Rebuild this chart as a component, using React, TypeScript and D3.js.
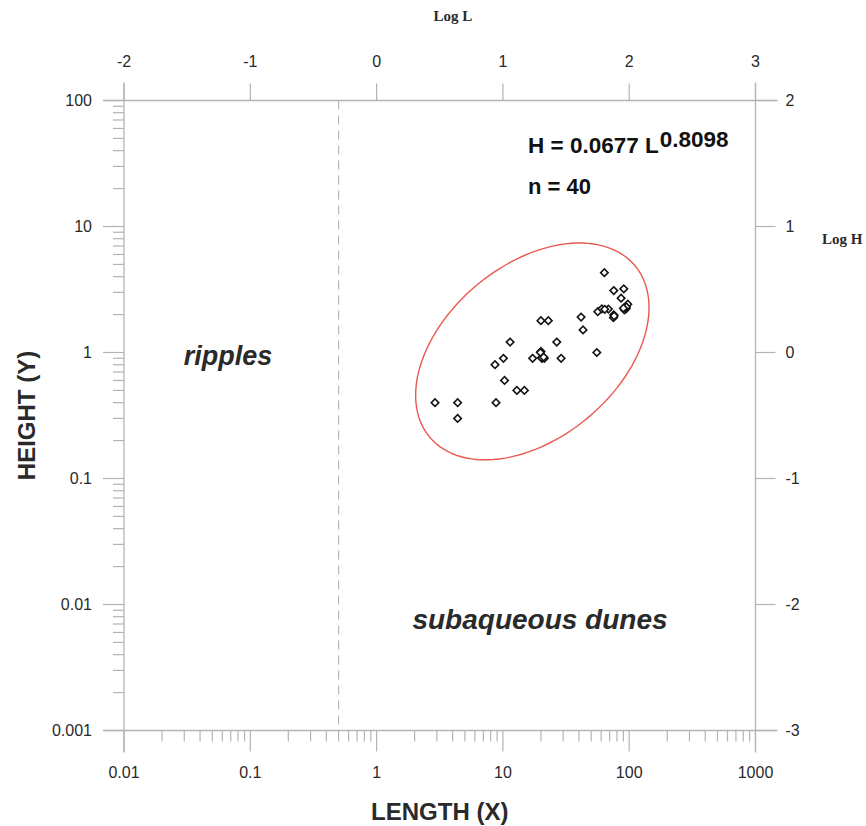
import React from "react";
import * as d3 from "d3";

// bedform length (m) and height (m)
const lengths = [63.6, 75.5, 90.6, 86.3, 97.5, 91.6, 94.5, 56.4, 60.7, 68.4, 75.5, 75, 41.6, 43.1, 20, 22.9, 11.4, 26.7, 55.4, 20, 17.2, 20.4, 21.3, 28.9, 10.1, 8.66, 10.3, 12.9, 14.8, 2.9, 4.38, 8.82, 4.38, 20.2, 76, 95, 21, 64, 90, 19.8];
const heights = [4.3, 3.1, 3.2, 2.7, 2.42, 2.18, 2.22, 2.11, 2.22, 2.21, 1.99, 1.89, 1.91, 1.51, 1.79, 1.79, 1.21, 1.21, 1.0, 1.02, 0.9, 0.9, 0.9, 0.9, 0.9, 0.8, 0.6, 0.5, 0.5, 0.4, 0.4, 0.4, 0.3, 0.91, 1.95, 2.3, 0.92, 2.2, 2.25, 1.0];

const xTicks = [0.01, 0.1, 1, 10, 100, 1000];
const xTickLabels = ["0.01", "0.1", "1", "10", "100", "1000"];
const yTicks = [0.001, 0.01, 0.1, 1, 10, 100];
const yTickLabels = ["0.001", "0.01", "0.1", "1", "10", "100"];
const logLTicks = [-2, -1, 0, 1, 2, 3];
const logHTicks = [-3, -2, -1, 0, 1, 2];

const rippleLimit = 0.5; // dashed boundary, length
const fitCoef = "0.0677";
const fitExp = "0.8098";
const nPoints = 40;

// confidence ellipse (centre in data units, semi-axes in decades, tilt in degrees)
const ellCenterL = 17.1;
const ellCenterH = 1.02;
const ellMajor = 1.06;
const ellMinor = 0.686;
const ellTilt = 40;

const W = 866;
const H = 826;
const left = 124, right = 755.5, top = 100.5, bottom = 730.5;

const App = () => {
  const x = d3.scaleLog().domain([0.01, 1000]).range([left, right]);
  const y = d3.scaleLog().domain([0.001, 100]).range([bottom, top]);
  const xl = d3.scaleLinear().domain([-2, 3]).range([left, right]);
  const yl = d3.scaleLinear().domain([-3, 2]).range([bottom, top]);

  const minors = (lo: number, hi: number) => {
    const out: number[] = [];
    for (let d = lo; d < hi; d *= 10) for (let m = 2; m <= 9; m++) out.push(d * m);
    return out;
  };
  const xMinor = minors(0.01, 1000);
  const yMinor = minors(0.001, 100);

  // ellipse outline in log space
  const t = (ellTilt * Math.PI) / 180;
  const c0 = Math.log10(ellCenterL), c1 = Math.log10(ellCenterH);
  const ellPts = d3.range(0, 361, 3).map((deg) => {
    const a = (deg * Math.PI) / 180;
    const u = ellMajor * Math.cos(a), v = ellMinor * Math.sin(a);
    return [c0 + u * Math.cos(t) - v * Math.sin(t), c1 + u * Math.sin(t) + v * Math.cos(t)];
  });
  const ellPath = d3.line<number[]>().x((d) => xl(d[0])).y((d) => yl(d[1])).curve(d3.curveLinearClosed)(ellPts);

  const diamond = d3.symbol(d3.symbolSquare, 28)();
  const axisCol = "#b4b4b4";
  const txt = "#2a2a2a";
  const sans = "'Liberation Sans', Arial, sans-serif";
  const serif = "'Liberation Serif', 'Times New Roman', serif";

  return (
    <svg width={W} height={H} style={{ position: "absolute", left: 0, top: 0, background: "#fff" }}>
      {/* frame lines, extended past the corners */}
      <g stroke={axisCol} strokeWidth={1.3}>
        <line x1={left - 21} x2={right + 22} y1={top} y2={top} />
        <line x1={left - 21} x2={right + 22} y1={bottom} y2={bottom} />
        <line x1={left} x2={left} y1={top - 18} y2={bottom + 22} />
        <line x1={right} x2={right} y1={top - 18} y2={bottom + 22} />
      </g>

      {/* ticks */}
      <g stroke={axisCol} strokeWidth={1.2}>
        {xTicks.map((v) => <line key={"xM" + v} x1={x(v)} x2={x(v)} y1={bottom} y2={bottom + 21} />)}
        {xMinor.map((v) => <line key={"xm" + v} x1={x(v)} x2={x(v)} y1={bottom} y2={bottom + 11} />)}
        {yTicks.map((v) => <line key={"yM" + v} x1={left - 21} x2={left} y1={y(v)} y2={y(v)} />)}
        {yMinor.map((v) => <line key={"ym" + v} x1={left - 11} x2={left} y1={y(v)} y2={y(v)} />)}
        {logLTicks.map((v) => <line key={"lL" + v} x1={xl(v)} x2={xl(v)} y1={top - 17} y2={top} />)}
        {logHTicks.map((v) => <line key={"lH" + v} x1={right} x2={right + 20} y1={yl(v)} y2={yl(v)} />)}
      </g>

      <g fontFamily={sans} fontSize={16} fill={txt}>
        {xTicks.map((v, i) => (
          <text key={"xt" + v} x={x(v)} y={bottom + 47} textAnchor="middle">{xTickLabels[i]}</text>
        ))}
        {yTicks.map((v, i) => (
          <text key={"yt" + v} x={left - 32} y={y(v)} dy="0.35em" textAnchor="end">{yTickLabels[i]}</text>
        ))}
        {logLTicks.map((v) => (
          <text key={"lt" + v} x={xl(v)} y={top - 34} textAnchor="middle">{v}</text>
        ))}
        {logHTicks.map((v) => (
          <text key={"ht" + v} x={right + 30} y={yl(v)} dy="0.35em" textAnchor="start">{v}</text>
        ))}
      </g>

      <text x={453} y={21} fontFamily={serif} fontWeight="bold" fontSize={15} fill={txt} textAnchor="middle">Log L</text>
      <text x={822} y={yl(1) + 17} fontFamily={serif} fontWeight="bold" fontSize={15} fill={txt}>Log H</text>

      <text x={(left + right) / 2} y={820} fontFamily={sans} fontWeight="bold" fontSize={24} fill={txt} textAnchor="middle">LENGTH (X)</text>
      <text transform={`translate(35,${(top + bottom) / 2}) rotate(-90)`} fontFamily={sans} fontWeight="bold" fontSize={24} fill={txt} textAnchor="middle">HEIGHT (Y)</text>

      {/* ripple / dune boundary */}
      <line x1={x(rippleLimit)} x2={x(rippleLimit)} y1={top} y2={bottom} stroke="#b8b8b8" strokeWidth={1.2} strokeDasharray="9,6" />

      <text x={228} y={365} fontFamily={sans} fontWeight="bold" fontStyle="italic" fontSize={27} fill={txt} textAnchor="middle">ripples</text>
      <text x={540} y={629} fontFamily={sans} fontWeight="bold" fontStyle="italic" fontSize={28} fill={txt} textAnchor="middle">subaqueous dunes</text>

      <text x={528} y={153} fontFamily={sans} fontWeight="bold" fontSize={22.5} fill="#111">
        {`H = ${fitCoef} L`}
        <tspan dx={1} dy={-6} fontSize={22.5}>{fitExp}</tspan>
      </text>
      <text x={528} y={194} fontFamily={sans} fontWeight="bold" fontSize={22} fill="#111">{`n = ${nPoints}`}</text>

      <path d={ellPath || ""} fill="none" stroke="#e8594f" strokeWidth={1.4} />

      <g>
        {lengths.map((L, i) => (
          <path key={i} d={diamond || ""} transform={`translate(${x(L)},${y(heights[i])}) rotate(45)`} fill="#fff" stroke="#111" strokeWidth={1.6} />
        ))}
      </g>
    </svg>
  );
};

export default App;
